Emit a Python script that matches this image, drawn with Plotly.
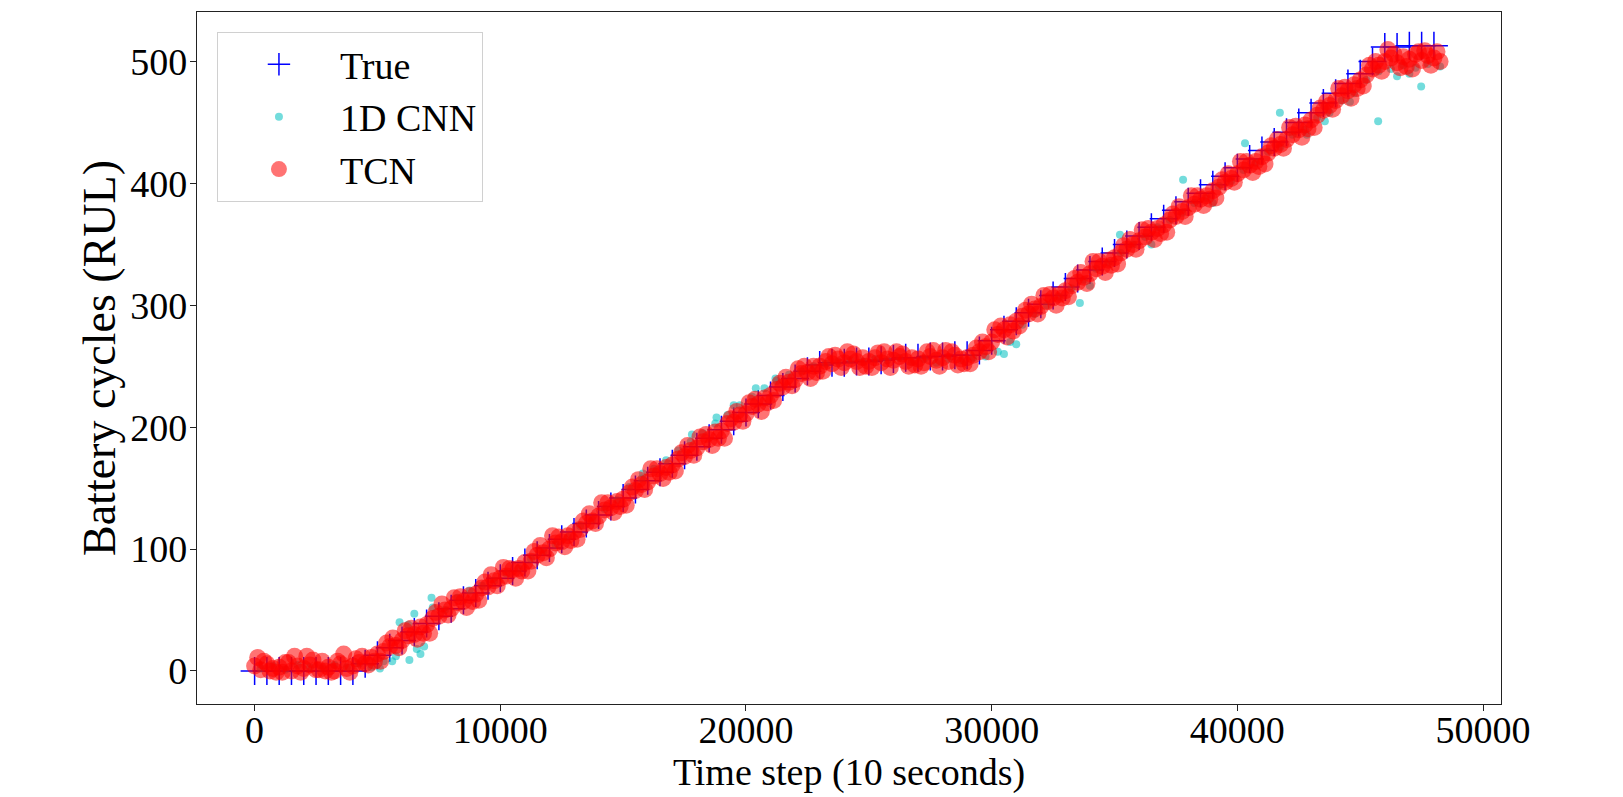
import plotly.graph_objects as go

# ---------------- data ----------------
true_x = list(range(0, 48001, 500))
true_y = [0, 0, 0, 0, 0, 0, 0, 0, 0,
          6, 13, 19, 25, 32, 39, 45, 51, 58, 64,
          70, 76, 82, 89, 95, 101, 108, 114, 121, 128,
          135, 142, 149, 156, 163, 170, 177, 184, 191, 198,
          205, 212, 219, 226, 233, 240, 246, 251, 253, 253,
          254, 254, 255, 256, 257, 257, 258, 258, 259, 259,
          263, 271, 280, 287, 294, 301, 308, 315, 322, 329,
          336, 343, 350, 357, 364, 371, 378, 385, 392, 399,
          406, 413, 420, 427, 434, 442, 450, 458, 466, 474,
          482, 490, 500, 512, 512, 513, 513, 513]

cnn_x = list(range(250, 48251, 500))
cnn_y = [2, 4, 1, 5, 3, 2, 5, 3, 6, 3,
         8, 12, 38, 14, 52, 50, 60, 66, 70, 74,
         80, 84, 92, 98, 104, 110, 119, 124, 133, 140,
         151, 158, 166, 173, 181, 188, 195, 203, 210, 218,
         225, 232, 238, 243, 246, 250, 252, 254, 255, 254,
         256, 255, 257, 254, 256, 253, 256, 255, 257, 258,
         262, 270, 284, 293, 300, 307, 314, 321, 330, 335,
         343, 350, 356, 364, 370, 376, 384, 388, 398, 402,
         411, 417, 426, 430, 440, 444, 454, 458, 468, 474,
         485, 492, 494, 497, 495, 498, 496]

cnn_out_x = [5100, 5600, 6300, 6600, 6900, 5900, 6500, 7200, 15800, 17800,
             18800, 19500, 20400, 21200, 30500, 31000, 33590, 35220, 37790, 40310,
             41730, 42830, 43560, 44580, 45730, 47480, 46500, 47000, 36500, 39000, 34000]
cnn_out_y = [2, 8, 9, 18, 20, 40, 47, 60, 162, 194,
             208, 218, 232, 240, 260, 268, 302, 358, 403, 433,
             458, 440, 451, 467, 451, 479.5, 488, 490, 350, 384, 316]

tcn_x = list(range(0, 48251, 250))
tcn_y = [4, 1, 6, 2,
         3, 7, 0, 4,
         2, 5, 1, 8,
         3, 0, 6, 2,
         4, 7, 6, 11,
         14, 16, 20, 21,
         25, 29, 30, 36,
         38, 43, 45, 50,
         51, 56, 57, 62,
         63, 68, 69, 74,
         76, 78, 83, 84,
         89, 90, 95, 97,
         100, 105, 106, 111,
         114, 116, 121, 123,
         127, 132, 134, 139,
         141, 146, 148, 153,
         155, 160, 162, 167,
         169, 174, 176, 181,
         183, 188, 190, 196,
         197, 203, 204, 210,
         211, 217, 219, 224,
         226, 231, 233, 237,
         239, 244, 245, 250,
         250, 254, 252, 256,
         253, 256, 254, 257,
         254, 257, 253, 256,
         255, 258, 254, 257,
         256, 253, 258, 255,
         257, 254, 259, 256,
         257, 259, 262, 266,
         270, 276, 280, 284,
         287, 291, 293, 297,
         299, 303, 306, 309,
         312, 316, 319, 323,
         326, 330, 332, 337,
         339, 343, 346, 350,
         353, 356, 360, 363,
         366, 370, 373, 377,
         380, 383, 387, 390,
         394, 397, 401, 404,
         408, 411, 415, 418,
         422, 425, 429, 432,
         436, 440, 444, 448,
         452, 456, 460, 464,
         468, 472, 476, 481,
         485, 489, 494, 497,
         500, 503, 499, 504,
         502, 506, 501, 505,
         503, 500]

tcn2_x = list(range(125, 48126, 1000))
tcn2_y = [11, -1, 12, -1, 10, 8, 33, 31, 60, 58,
          85, 82, 111, 108, 138, 136, 166, 164, 192, 191,
          220, 222, 248, 246, 262, 249, 262, 250, 263, 252,
          280, 283, 308, 307, 336, 334, 362, 360, 390, 388,
          418, 416, 446, 446, 478, 480, 510, 494, 508]

tcn3_x = list(range(625, 47626, 1000))
tcn3_y = [0, 12, 1, 14, 5, 27, 26, 55, 52, 79,
          76, 103, 102, 129, 130, 157, 158, 185, 185, 213,
          213, 241, 240, 259, 249, 262, 250, 263, 251, 270,
          274, 301, 300, 327, 327, 354, 354, 381, 382, 408,
          409, 436, 438, 467, 470, 500, 495, 509]

tcn4_x = list(range(375, 47376, 1000))
tcn4_y = [8, 7, 9, 8, 12, 23, 35, 48, 61, 73,
          84, 98, 110, 123, 138, 151, 166, 179, 194, 207,
          223, 236, 250, 258, 260, 261, 260, 262, 262, 265,
          283, 296, 309, 322, 336, 349, 363, 375, 390, 403,
          418, 431, 447, 462, 479, 497, 506, 508]

tcn5_x = list(range(875, 47876, 1000))
tcn5_y = [-1, -1, 0, -1, 8, 19, 31, 46, 57, 70,
          82, 93, 107, 121, 135, 149, 163, 177, 191, 205,
          220, 234, 245, 249, 250, 249, 251, 250, 252, 262,
          279, 293, 306, 318, 333, 346, 359, 373, 387, 401,
          414, 429, 445, 461, 478, 492, 496, 497]

x_ticks = [0, 10000, 20000, 30000, 40000, 50000]
y_ticks = [0, 100, 200, 300, 400, 500]

FONT = "Liberation Serif, Times New Roman, serif"

fig = go.Figure()
fig.add_trace(go.Scatter(
    x=true_x, y=true_y, mode="markers", name="True",
    marker=dict(symbol="cross-thin", size=20, color="#0000ff",
                line=dict(color="#0000ff", width=1.5)),
))
fig.add_trace(go.Scatter(
    x=cnn_x + cnn_out_x, y=cnn_y + cnn_out_y, mode="markers", name="1D CNN",
    marker=dict(symbol="circle", size=8, color="#00bfbf", opacity=0.55,
                line=dict(width=0)),
))
fig.add_trace(go.Scatter(
    x=tcn_x + tcn2_x + tcn3_x + tcn4_x + tcn5_x,
    y=tcn_y + tcn2_y + tcn3_y + tcn4_y + tcn5_y,
    mode="markers", name="TCN",
    marker=dict(symbol="circle", size=17, color="#ff0000", opacity=0.55,
                line=dict(width=0)),
))

axis_common = dict(
    showline=True, linecolor="#222222", linewidth=1.3, mirror=True,
    ticks="outside", ticklen=6, tickwidth=1.2, tickcolor="#222222",
    showgrid=False, zeroline=False, automargin=False,
    tickfont=dict(family=FONT, size=38, color="black"),
)

fig.update_layout(
    width=1623, height=797,
    margin=dict(l=197, r=122, t=12, b=93),
    paper_bgcolor="white", plot_bgcolor="white",
    font=dict(family=FONT, size=38, color="black"),
    showlegend=True,
    legend=dict(
        x=0.0153, y=0.971, xanchor="left", yanchor="top",
        bgcolor="white", bordercolor="#d0d0d0", borderwidth=1,
        font=dict(family=FONT, size=38, color="black"),
        itemwidth=112, tracegroupgap=0,
    ),
    xaxis=dict(
        range=[-2345, 50730], tickvals=x_ticks,
        ticktext=[str(v) for v in x_ticks],
        ticklabelstandoff=-14,
        title=dict(text="Time step (10 seconds)", standoff=8,
                   font=dict(family=FONT, size=38, color="black")),
        **axis_common,
    ),
    yaxis=dict(
        range=[-27.1, 540.7], tickvals=y_ticks,
        ticktext=[str(v) for v in y_ticks],
        ticklabelstandoff=-5,
        title=dict(text="Battery cycles (RUL)", standoff=0,
                   font=dict(family=FONT, size=46, color="black")),
        **axis_common,
    ),
)

fig.write_html(
    "out.html",
    config={"displayModeBar": False},
    post_script="document.body.style.margin='0';document.body.style.overflow='hidden';",
)
